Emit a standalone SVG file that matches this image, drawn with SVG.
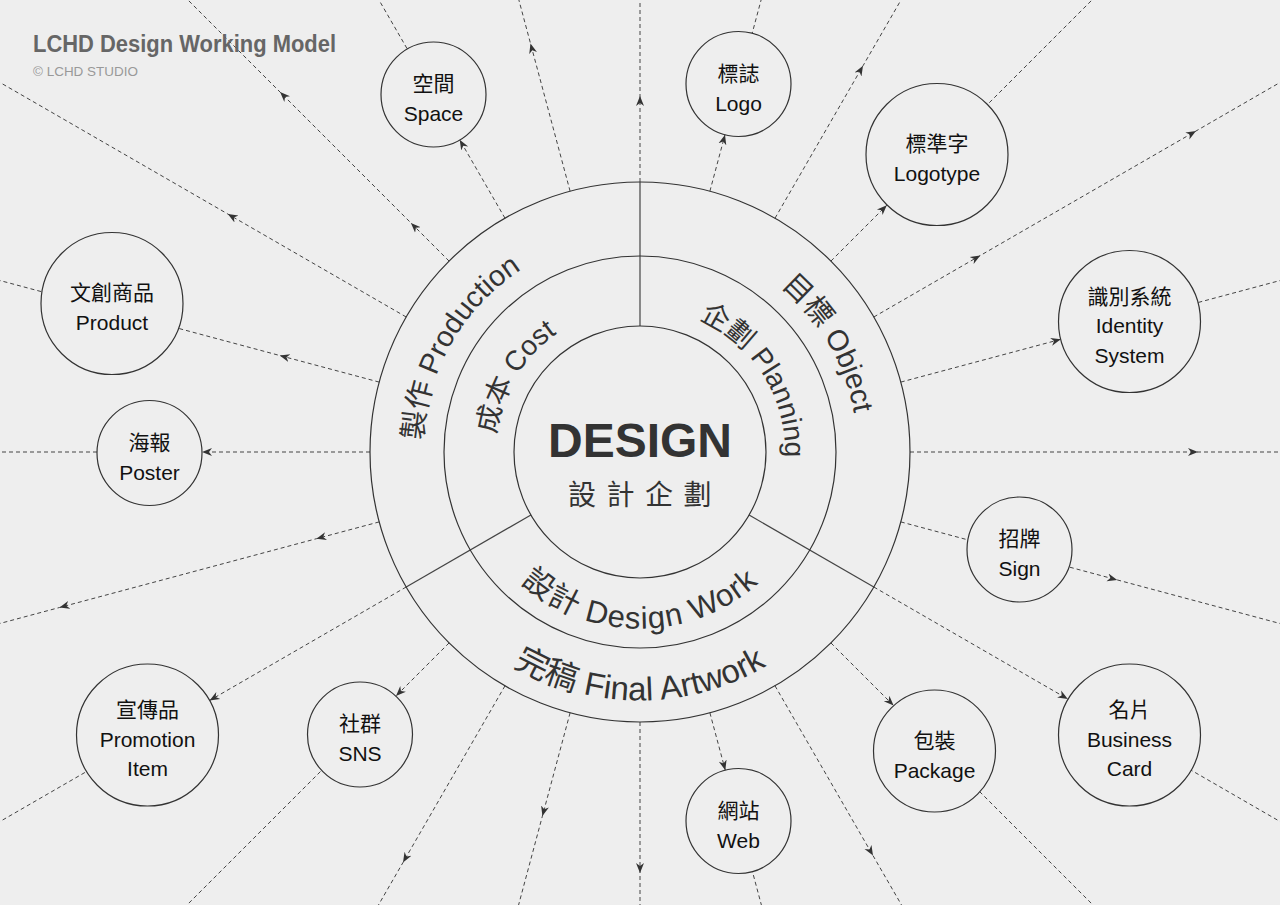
<svg xmlns="http://www.w3.org/2000/svg" width="1280" height="905" viewBox="0 0 1280 905">
<defs>
<style>
.ray{fill:none;stroke:#444;stroke-width:1;stroke-dasharray:4 3;marker-mid:url(#arr)}
.div{stroke:#444;stroke-width:1.2}
.ring{fill:none;stroke:#333;stroke-width:1.2}
.node circle{fill:#eeeeee;stroke:#333;stroke-width:1.2}
.node text{font-family:"Liberation Sans","Noto Sans CJK TC",sans-serif;font-size:21px;fill:#111;text-anchor:middle}
.rt{font-family:"Liberation Sans","Noto Sans CJK TC",sans-serif;fill:#333}
.ttl{font-family:"Liberation Sans",sans-serif}
</style>
<marker id="arr" viewBox="0 0 10 10" refX="10" refY="5" markerWidth="10" markerHeight="10" markerUnits="userSpaceOnUse" orient="auto"><path d="M0,1 L10,5 L0,9 L3,5 Z" fill="#333"/></marker>
<path id="p1" d="M554.8,569.3 A145,145 0 0 1 703.6,321.7"/>
<path id="p2" d="M574.2,322.8 A145,145 0 0 1 727.3,567.8"/>
<path id="p3" d="M463.7,467.4 A177,177 0 0 0 816.3,467.4"/>
<path id="p4" d="M515.5,629.8 A217,217 0 0 1 731.7,255.3"/>
<path id="p5" d="M548.3,255.3 A217,217 0 0 1 764.5,629.8"/>
<path id="p6" d="M392.9,473.6 A248,248 0 0 0 887.1,473.6"/>
</defs>
<rect width="1280" height="905" fill="#eeeeee"/>
<g id="connectors">
<path class="ray" d="M910,452 L1198,452 L1640,452"/>
<path class="ray" d="M900.8,521.9 L1117.2,579.9 L1605.9,710.8"/>
<path class="ray" d="M873.8,587 L1067.8,699 L1506,952"/>
<path class="ray" d="M830.9,642.9 L893.6,705.6 L1347.1,1159.1"/>
<path class="ray" d="M775,685.8 L873,855.6 L1140,1318"/>
<path class="ray" d="M709.9,712.8 L725.3,770.3 L898.8,1417.9"/>
<path class="ray" d="M640,722 L640,873 L640,1452"/>
<path class="ray" d="M570.1,712.8 L542.4,816.1 L381.2,1417.9"/>
<path class="ray" d="M505,685.8 L403,862.5 L140,1318"/>
<path class="ray" d="M449.1,642.9 L396,696 L-67.1,1159.1"/>
<path class="ray" d="M406.2,587 L209.6,700.5 L-226,952"/>
<path class="ray" d="M379.2,521.9 L316.4,538.7 L59.5,607.5 L-325.9,710.8"/>
<path class="ray" d="M370,452 L202,452 L-360,452"/>
<path class="ray" d="M379.2,382.1 L279.7,355.5 L-325.9,193.2"/>
<path class="ray" d="M406.2,317 L227.8,214 L-226,-48"/>
<path class="ray" d="M449.1,261.1 L410.9,222.9 L280.1,92.1 L-67.1,-255.1"/>
<path class="ray" d="M505,218.2 L459.7,139.8 L140,-414"/>
<path class="ray" d="M570.1,191.2 L530.5,43.4 L381.2,-513.9"/>
<path class="ray" d="M640,182 L640,96 L640,-548"/>
<path class="ray" d="M709.9,191.2 L725,134.7 L898.8,-513.9"/>
<path class="ray" d="M775,218.2 L863,65.8 L1140,-414"/>
<path class="ray" d="M830.9,261.1 L886.8,205.2 L1347.1,-255.1"/>
<path class="ray" d="M873.8,317 L980.3,255.5 L1196,131 L1506,-48"/>
<path class="ray" d="M900.8,382.1 L1060.8,339.3 L1605.9,193.2"/>
<line class="div" x1="640" y1="326" x2="640" y2="182"/>
<line class="div" x1="749.1" y1="515" x2="873.8" y2="587"/>
<line class="div" x1="530.9" y1="515" x2="406.2" y2="587"/>
</g>
<g id="core">
<circle class="ring" cx="640" cy="452" r="270"/>
<circle class="ring" cx="640" cy="452" r="196"/>
<circle class="ring" cx="640" cy="452" r="126"/>
<text x="640" y="457" text-anchor="middle" font-size="48" font-weight="bold" fill="#333" class="ttl">DESIGN</text>
<text class="rt" y="505" font-size="28" text-anchor="middle" x="582 620.5 659 697.5">設計企劃</text>
<text class="rt" font-size="28"><textPath href="#p1" startOffset="50%" text-anchor="middle">成本 Cost</textPath></text>
<text class="rt" font-size="28"><textPath href="#p2" startOffset="50%" text-anchor="middle">企劃 Planning</textPath></text>
<text class="rt" font-size="31" letter-spacing="1"><textPath href="#p3" startOffset="50%" text-anchor="middle">設計 Design Work</textPath></text>
<text class="rt" font-size="29"><textPath href="#p4" startOffset="50%" text-anchor="middle">製作 Production</textPath></text>
<text class="rt" font-size="29"><textPath href="#p5" startOffset="50%" text-anchor="middle">目標 Object</textPath></text>
<text class="rt" font-size="33"><textPath href="#p6" startOffset="50%" text-anchor="middle">完稿 Final Artwork</textPath></text>
</g>
<g id="title">
<text class="ttl" x="33" y="52" font-size="23" font-weight="bold" fill="#666" textLength="303" lengthAdjust="spacingAndGlyphs">LCHD Design Working Model</text>
<text class="ttl" x="33" y="76" font-size="13.5" fill="#999" textLength="105" lengthAdjust="spacingAndGlyphs">© LCHD STUDIO</text>
</g>
<g id="node-space" class="node"><circle cx="433.5" cy="94.5" r="52.5"/><text x="433.5" y="91">空間</text><text x="433.5" y="121">Space</text></g>
<g id="node-logo" class="node"><circle cx="738.5" cy="84" r="52.5"/><text x="738.5" y="80.5">標誌</text><text x="738.5" y="110.5">Logo</text></g>
<g id="node-logotype" class="node"><circle cx="937" cy="154.5" r="71"/><text x="937" y="151">標準字</text><text x="937" y="181">Logotype</text></g>
<g id="node-identity" class="node"><circle cx="1129.5" cy="321.5" r="71"/><text x="1129.5" y="303.5">識別系統</text><text x="1129.5" y="333">Identity</text><text x="1129.5" y="362.5">System</text></g>
<g id="node-sign" class="node"><circle cx="1019.5" cy="549.5" r="52.5"/><text x="1019.5" y="546">招牌</text><text x="1019.5" y="576">Sign</text></g>
<g id="node-card" class="node"><circle cx="1129.5" cy="735" r="71"/><text x="1129.5" y="717">名片</text><text x="1129.5" y="746.5">Business</text><text x="1129.5" y="776">Card</text></g>
<g id="node-package" class="node"><circle cx="934.5" cy="751" r="61"/><text x="934.5" y="747.5">包裝</text><text x="934.5" y="777.5">Package</text></g>
<g id="node-web" class="node"><circle cx="738.5" cy="821" r="52.5"/><text x="738.5" y="817.5">網站</text><text x="738.5" y="847.5">Web</text></g>
<g id="node-sns" class="node"><circle cx="360" cy="734.5" r="52.5"/><text x="360" y="731">社群</text><text x="360" y="761">SNS</text></g>
<g id="node-promotion" class="node"><circle cx="147.5" cy="735" r="71"/><text x="147.5" y="717">宣傳品</text><text x="147.5" y="746.5">Promotion</text><text x="147.5" y="776">Item</text></g>
<g id="node-poster" class="node"><circle cx="149.5" cy="453" r="52.5"/><text x="149.5" y="449.5">海報</text><text x="149.5" y="479.5">Poster</text></g>
<g id="node-product" class="node"><circle cx="112" cy="303.5" r="71"/><text x="112" y="300">文創商品</text><text x="112" y="330">Product</text></g>
</svg>
